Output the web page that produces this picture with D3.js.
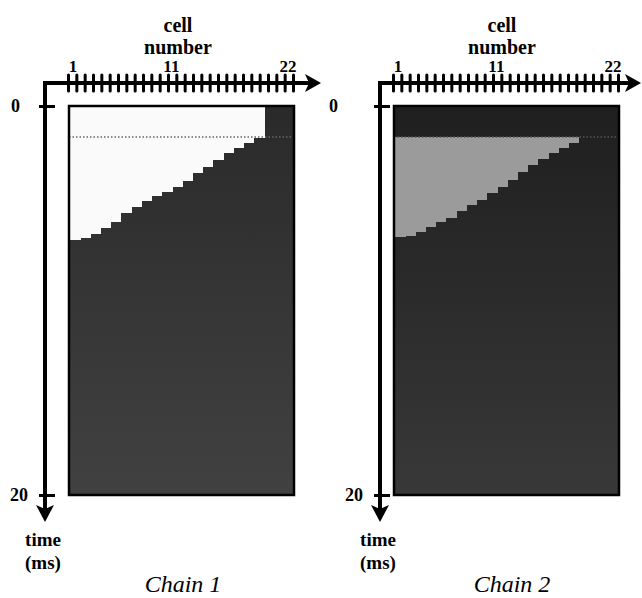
<!DOCTYPE html>
<html>
<head>
<meta charset="utf-8">
<script src="https://cdn.jsdelivr.net/npm/d3@7"></script>
<style>
  body { margin: 0; background: #fff; }
</style>
</head>
<body>
<div id="chart_div"></div>
<script>
// cell numbers along the chain
var cells = [1, 2, 3, 4, 5, 6, 7, 8, 9, 10, 11, 12, 13, 14, 15, 16, 17, 18, 19, 20, 21, 22];
var cellLabels = [1, 11, 22];
var timeLabels = [0, 20];

// excited interval per cell (ms); null = never excited
var chain1Start = [0, 0, 0, 0, 0, 0, 0, 0, 0, 0, 0, 0, 0, 0, 0, 0, 0, 0, 0, null, null, null];
var chain1End   = [6.89, 6.79, 6.56, 6.27, 5.96, 5.50, 5.19, 4.91, 4.63, 4.40, 4.16, 3.86, 3.44, 3.14, 2.80, 2.42, 2.16, 1.90, 1.67, null, null, null];
var chain2Start = [1.6, 1.6, 1.6, 1.6, 1.6, 1.6, 1.6, 1.6, 1.6, 1.6, 1.6, 1.6, 1.6, 1.6, 1.6, 1.6, 1.6, 1.6, null, null, null, null];
var chain2End   = [6.74, 6.70, 6.49, 6.22, 5.96, 5.76, 5.41, 5.10, 4.82, 4.48, 4.18, 3.81, 3.39, 3.04, 2.73, 2.42, 2.16, 1.89, null, null, null, null];
var stimTime = 1.6;

var W = 642, H = 598;
var FONT = '"Liberation Serif"';

var svg = d3.select('#chart_div').append('svg')
    .attr('width', W)
    .attr('height', H);

var defs = svg.append('defs');

function makeGradient(id, top, bottom) {
  var g = defs.append('linearGradient')
      .attr('id', id)
      .attr('x1', 0).attr('y1', 0).attr('x2', 0).attr('y2', 1);
  g.append('stop').attr('offset', '0%').attr('stop-color', top);
  g.append('stop').attr('offset', '100%').attr('stop-color', bottom);
}
makeGradient('rest1', '#2a2a2a', '#414141');
makeGradient('rest2', '#1f1f1f', '#383838');

var yScale = d3.scaleLinear().domain([0, 20]).range([106, 495]);

function addText(g, x, y, txt, size, weight, style) {
  return g.append('text')
    .attr('x', x).attr('y', y)
    .attr('text-anchor', 'middle')
    .attr('font-family', FONT)
    .attr('font-size', size)
    .attr('font-weight', weight || 'normal')
    .attr('font-style', style || 'normal')
    .attr('fill', '#000')
    .text(txt);
}

function makePanel(p) {
  var xScale = d3.scaleLinear()
      .domain([0.5, 22.5])
      .range([p.left, p.left + 225]);
  var cw = xScale(1.5) - xScale(0.5);
  var g = svg.append('g');

  // resting background
  g.append('rect')
    .attr('x', xScale(0.5))
    .attr('y', yScale(0))
    .attr('width', xScale(22.5) - xScale(0.5))
    .attr('height', yScale(20) - yScale(0))
    .attr('fill', 'url(#' + p.rest + ')');

  // excited cells
  var rows = cells.map(function (c, i) {
    return { cell: c, start: p.start[i], end: p.end[i] };
  }).filter(function (d) { return d.start !== null; });

  g.selectAll('rect.active')
    .data(rows)
    .enter()
    .append('rect')
    .attr('class', 'active')
    .attr('x', function (d) { return Math.floor(xScale(d.cell - 0.5)); })
    .attr('y', function (d) { return yScale(d.start); })
    .attr('width', Math.ceil(cw) + 1)
    .attr('height', function (d) { return yScale(d.end) - yScale(d.start); })
    .attr('fill', p.active)
    .attr('shape-rendering', 'crispEdges');

  // stimulus time, dotted
  g.append('line')
    .attr('x1', xScale(0.5)).attr('x2', xScale(22.5))
    .attr('y1', yScale(stimTime)).attr('y2', yScale(stimTime))
    .attr('stroke', p.dot)
    .attr('stroke-width', 1.5)
    .attr('stroke-dasharray', '1.5,2');

  g.append('rect')
    .attr('x', xScale(0.5))
    .attr('y', yScale(0))
    .attr('width', xScale(22.5) - xScale(0.5))
    .attr('height', yScale(20) - yScale(0))
    .attr('fill', 'none')
    .attr('stroke', '#000')
    .attr('stroke-width', 2.5);

  // axes
  var ax = p.axisX, ay = 83;
  var tickScale = d3.scaleLinear().domain([0, 27]).range([p.left - 1, p.left + 224]);
  var xAxis = g.append('g')
    .attr('transform', 'translate(0,' + (ay - 8) + ')')
    .call(d3.axisBottom(tickScale).tickValues(d3.range(28)).tickSize(16).tickFormat(''));
  xAxis.select('.domain').remove();
  xAxis.selectAll('line').attr('stroke', '#000').attr('stroke-width', 3).attr('stroke-linecap', 'round');

  g.append('line')
    .attr('x1', ax - 2).attr('x2', p.arrowX - 8)
    .attr('y1', ay).attr('y2', ay)
    .attr('stroke', '#000').attr('stroke-width', 4);
  g.append('path')
    .attr('d', 'M' + (p.arrowX - 16) + ',' + (ay - 9) + 'L' + p.arrowX + ',' + ay +
               'L' + (p.arrowX - 16) + ',' + (ay + 9) + 'L' + (p.arrowX - 12) + ',' + ay + 'Z')
    .attr('fill', '#000');

  g.append('line')
    .attr('x1', ax).attr('x2', ax)
    .attr('y1', ay - 2).attr('y2', 514)
    .attr('stroke', '#000').attr('stroke-width', 4);
  g.append('path')
    .attr('d', 'M' + (ax - 9) + ',505L' + ax + ',522L' + (ax + 9) + ',505L' + ax + ',509Z')
    .attr('fill', '#000');

  var yAxis = g.append('g')
    .attr('transform', 'translate(' + (ax + 10) + ',0)')
    .call(d3.axisLeft(yScale).tickValues(timeLabels).tickSize(16).tickFormat(''));
  yAxis.select('.domain').remove();
  yAxis.selectAll('line').attr('stroke', '#000').attr('stroke-width', 3);

  timeLabels.forEach(function (d) {
    addText(g, d === 0 ? ax - p.zeroOff : ax - 17, yScale(d) + 6, d, 18, 'bold')
      .attr('text-anchor', 'end');
  });

  cellLabels.forEach(function (d) {
    addText(g, xScale(d) - (d === 11 ? 5 : 1), 72, d, 17, 'bold');
  });

  addText(g, p.titleX, 32, 'cell', 20, 'bold');
  addText(g, p.titleX, 54, 'number', 20, 'bold');

  addText(g, ax - 2, 546, 'time', 19, 'bold');
  addText(g, ax - 2, 569, '(ms)', 19, 'bold');

  addText(g, p.chainX, 592, p.name, 24, 'normal', 'italic');
}

makePanel({ left: 69, axisX: 45, arrowX: 321, zeroOff: 25, titleX: 178, chainX: 183,
            start: chain1Start, end: chain1End, active: '#fafafa', rest: 'rest1', dot: '#666', name: 'Chain 1' });
makePanel({ left: 394, axisX: 380, arrowX: 641, zeroOff: 42, titleX: 502, chainX: 512,
            start: chain2Start, end: chain2End, active: '#9b9b9b', rest: 'rest2', dot: '#555', name: 'Chain 2' });
</script>
</body>
</html>
